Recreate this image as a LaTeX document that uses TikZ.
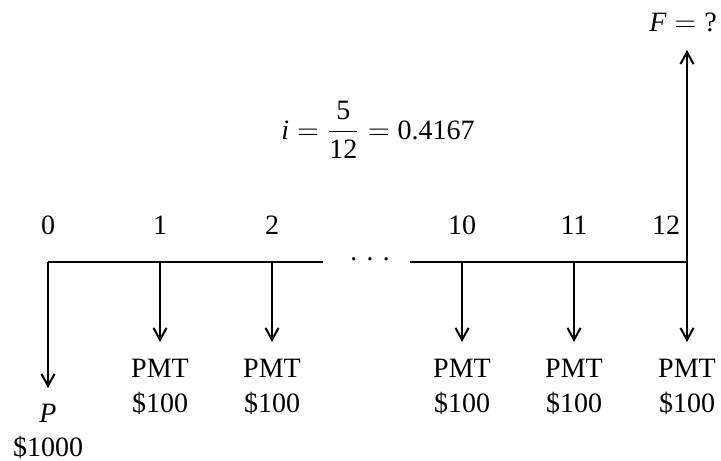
\documentclass[tikz,border=0pt]{standalone}
\usepackage{amsmath}
\usepackage{fontspec}
\setmainfont{Liberation Serif}
\usetikzlibrary{positioning,arrows.meta}

\begin{document}
\begin{tikzpicture}[x=0.5pt, y=-0.5pt, >={Straight Barb[length=6pt,width=6.5pt]},
    every node/.style={font=\fontsize{14}{16}\selectfont, inner sep=1pt},
    flow/.style={->, line width=1pt}]
  \useasboundingbox (0,0) rectangle (721,460);
  % periods on the time line
  \foreach \n/\x in {0/48,1/160,2/272,10/462,11/574} {
    \node (n\n) at (\x,225) {\n};
    \coordinate (t\n) at (\x,262);
  }
  \node (n12) at (666,225) {12};
  \coordinate (t12) at (687,262);
  \coordinate (cut1) at (323,262);
  \coordinate (cut2) at (410,262);
  \node[anchor=base] (dots) at (370,268) {·\ ·\ ·};
  \draw[line width=1pt] (t0) -- (cut1);
  \draw[line width=1pt] (cut2) -- (t12);
  % payments
  \foreach \n/\x in {1/160,2/272,10/462,11/574,12/687} {
    \coordinate (b\n) at (\x,342);
    \node (pmt\n) at (\x,368) {PMT};
    \node (amt\n) at (\x,403) {\$100};
    \draw[flow] (t\n) -- (b\n);
  }
  \coordinate (b0) at (48,388);
  \draw[flow] (t0) -- (b0);
  \node (pv) at (48,413) {\textit{P}};
  \node (pamt) at (48,447) {\$1000};
  % future value
  \coordinate (top) at (687,50);
  \draw[flow] (t12) -- (top);
  \node (fv) at (683,22) {$\textit{F} = \textrm{?}$};
  \node (rate) at (378,130) {$\textit{i} = \dfrac{\textrm{5}}{\textrm{12}} = \textrm{0.4167}$};
\end{tikzpicture}
\end{document}
